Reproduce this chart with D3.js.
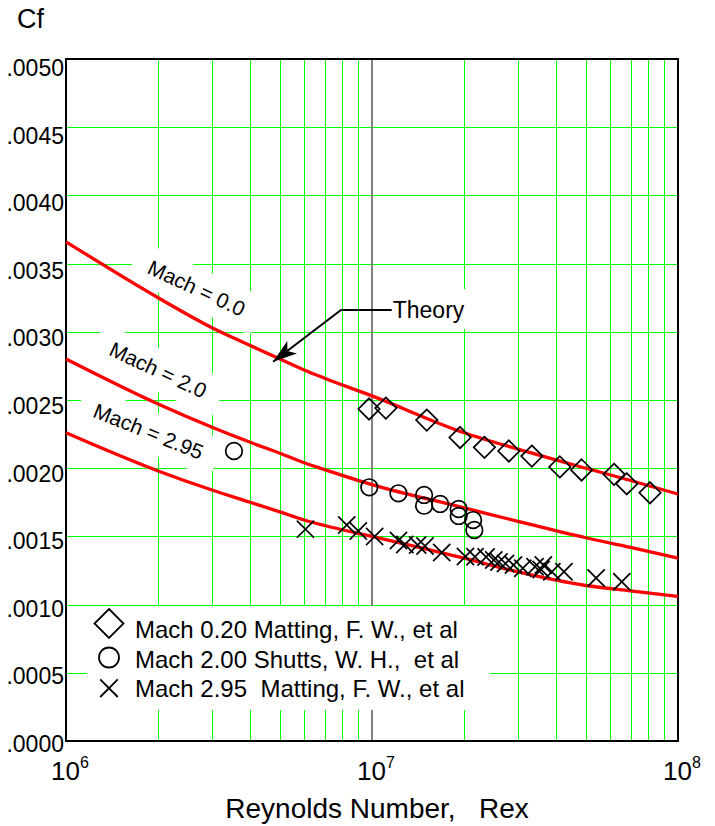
<!DOCTYPE html>
<html>
<head>
<meta charset="utf-8">
<script src="https://cdn.jsdelivr.net/npm/d3@7"></script>
<style>
  html, body { margin: 0; padding: 0; background: #fff; }
  svg { display: block; font-family: "Liberation Sans", Arial, sans-serif; }
</style>
</head>
<body>
<svg width="715" height="826"></svg>
<script>
// Theory curves at these Reynolds numbers
var theoryRe = [1e6, 2e6, 3e6, 4e6, 5e6, 6e6, 7e6, 1e7, 2e7, 3e7, 5e7, 7e7, 1e8];
var theoryM00 = [.00366, .00325, .00303, .00290, .00280, .00272, .00266, .00253, .00226, .00214, .00200, .00191, .00181];
var theoryM20 = [.00280, .00247, .00230, .00219, .00211, .00204, .00199, .00188, .00171, .00161, .00149, .00142, .00134];
var theoryM295 = [.00226, .00198, .00184, .00175, .00168, .00162, .00158, .00150, .00134, .00124, .00114, .00110, .00106];

// Mach 0.20 (Matting) - diamonds
var m020Re = [9.78e6, 1.11e7, 1.51e7, 1.94e7, 2.33e7, 2.80e7, 3.33e7, 4.11e7, 4.84e7, 6.18e7, 6.80e7, 8.10e7];
var m020Cf = [.002434, .002441, .002353, .002225, .002153, .002126, .002089, .002009, .001987, .001955, .001886, .00182];

// Mach 2.00 (Shutts) - circles
var m200Re = [3.54e6, 9.80e6, 1.22e7, 1.48e7, 1.48e7, 1.67e7, 1.92e7, 1.92e7, 2.14e7, 2.16e7];
var m200Cf = [.002126, .00186, .001816, .001804, .001725, .001738, .001701, .00165, .00162, .001547];

// Mach 2.95 (Matting) - crosses
var m295Re = [6.06e6, 8.27e6, 9.02e6, 1.02e7, 1.22e7, 1.28e7, 1.41e7, 1.49e7, 1.69e7, 2.02e7, 2.17e7, 2.36e7,
              2.50e7, 2.60e7, 2.73e7, 2.90e7, 3.11e7, 3.41e7, 3.57e7, 3.63e7, 3.87e7, 4.24e7, 5.40e7, 6.55e7];
var m295Cf = [.001553, .001584, .00154, .001499, .00147, .001441, .001437, .00143, .001382, .001353, .001351, .001349,
              .001327, .001312, .001301, .00129, .001266, .001278, .001257, .00129, .001241, .001241, .001195, .001168];

var yTickValues = [0, .0005, .001, .0015, .002, .0025, .003, .0035, .004, .0045, .005];
var xTickPowers = [6, 7, 8];
var legendLabels = ['Mach 0.20 Matting, F. W., et al', 'Mach 2.00 Shutts, W. H.,  et al', 'Mach 2.95  Matting, F. W., et al'];
var curveLabels = ['Mach = 0.0', 'Mach = 2.0', 'Mach = 2.95'];
// where the labels sit (data coords) and their tilt
var curveLabelRe = [2.67e6, 2.0e6, 1.86e6];
var curveLabelCf = [.00332, .00272, .00227];
var curveLabelAngle = [25, 25, 22];

var svg = d3.select('svg');
var W = 715, H = 826;
var margin = {top: 59, right: 37, bottom: 85, left: 66};

var x = d3.scaleLog().domain([1e6, 1e8]).range([margin.left, W - margin.right]);
var y = d3.scaleLinear().domain([0, 0.005]).range([H - margin.bottom, margin.top]);
// printed tick labels drift a little against the grid
var yLabel = d3.scaleLinear().domain([0, 0.005]).range([H - margin.bottom + 3, margin.top + 9]);

var x0 = x.range()[0], x1 = x.range()[1];
var y0 = y.range()[0], y1 = y.range()[1];

function isDecade(d) {
  var l = Math.log10(d);
  return Math.abs(l - Math.round(l)) < 1e-9;
}

// grid
var grid = svg.append('g').attr('shape-rendering', 'crispEdges');
grid.selectAll('line.v')
  .data(x.ticks().filter(function(d) { return !isDecade(d); }))
  .enter().append('line')
  .attr('x1', function(d) { return Math.round(x(d)) + 0.5; })
  .attr('x2', function(d) { return Math.round(x(d)) + 0.5; })
  .attr('y1', y1).attr('y2', y0)
  .style('stroke', '#00ff00').style('stroke-width', 1);

grid.selectAll('line.h')
  .data(yTickValues.filter(function(d) { return d > 0 && d < 0.005; }))
  .enter().append('line')
  .attr('x1', x0).attr('x2', x1)
  .attr('y1', function(d) { return Math.round(y(d)) + 0.5; })
  .attr('y2', function(d) { return Math.round(y(d)) + 0.5; })
  .style('stroke', '#00ff00').style('stroke-width', 1);

// 10^7 line in gray
svg.append('line')
  .attr('x1', x(1e7)).attr('x2', x(1e7))
  .attr('y1', y1).attr('y2', y0)
  .style('stroke', '#808080').style('stroke-width', 2);

// white patches behind the annotations
var masks = svg.append('g');
var labels = svg.append('g');

curveLabels.forEach(function(t, i) {
  var g = labels.append('g')
    .attr('transform', 'translate(' + x(curveLabelRe[i]) + ',' + y(curveLabelCf[i]) + ') rotate(' + curveLabelAngle[i] + ')');
  var txt = g.append('text')
    .attr('text-anchor', 'middle')
    .attr('dy', '0.35em')
    .style('font-size', '21px')
    .text(t);
  var len = txt.node().getComputedTextLength();
  masks.append('rect')
    .attr('transform', g.attr('transform'))
    .attr('x', -(len + 32) / 2).attr('y', -20)
    .attr('width', len + 32).attr('height', 40)
    .style('fill', '#fff');
});

// Theory callout
var theoryTip = [4.75e6, .00278];
var theoryElbow = [7.92e6, .00316];
var theoryText = [1.16e7, .00316];
var tx = x(theoryText[0]), ty = y(theoryText[1]);
var theoryLabel = labels.append('text')
  .attr('x', tx + 1).attr('y', ty + 8)
  .style('font-size', '23px')
  .text('Theory');
var tb = theoryLabel.node().getBBox();
masks.append('rect')
  .attr('x', tb.x - 15).attr('y', tb.y - 8)
  .attr('width', tb.width + 25).attr('height', tb.height + 14)
  .style('fill', '#fff');

// legend box
var legX = 87, legY = 606;
masks.append('rect')
  .attr('x', legX).attr('y', legY)
  .attr('width', 403).attr('height', 104)
  .style('fill', '#fff');

// frame
svg.append('rect')
  .attr('x', x0).attr('y', y1)
  .attr('width', x1 - x0).attr('height', y0 - y1)
  .style('fill', 'none').style('stroke', '#000').style('stroke-width', 2);

// theory curves
var line = d3.line()
  .x(function(d) { return x(d[0]); })
  .y(function(d) { return y(d[1]); })
  .curve(d3.curveMonotoneX);

[theoryM00, theoryM20, theoryM295].forEach(function(cf) {
  svg.append('path')
    .datum(d3.zip(theoryRe, cf))
    .attr('d', line)
    .style('fill', 'none').style('stroke', '#ff0000').style('stroke-width', 3.3);
});

// symbols
function diamondPath(r) { return 'M0,' + (-r) + 'L' + r + ',0L0,' + r + 'L' + (-r) + ',0Z'; }
function crossPath(r) { return 'M' + (-r) + ',' + (-r) + 'L' + r + ',' + r + 'M' + (-r) + ',' + r + 'L' + r + ',' + (-r); }
function circlePath(r) { return 'M' + (-r) + ',0A' + r + ',' + r + ' 0 1,0 ' + r + ',0A' + r + ',' + r + ' 0 1,0 ' + (-r) + ',0Z'; }

function drawPoints(re, cf, path) {
  svg.append('g').selectAll('path')
    .data(d3.zip(re, cf))
    .enter().append('path')
    .attr('transform', function(d) { return 'translate(' + x(d[0]) + ',' + y(d[1]) + ')'; })
    .attr('d', path)
    .style('fill', 'none').style('stroke', '#000').style('stroke-width', 1.7);
}
drawPoints(m020Re, m020Cf, diamondPath(10.7));
drawPoints(m200Re, m200Cf, circlePath(8.3));
drawPoints(m295Re, m295Cf, crossPath(8.6));

// arrow
var ex = x(theoryElbow[0]), ey = y(theoryElbow[1]);
var px = x(theoryTip[0]), py = y(theoryTip[1]);
svg.append('path')
  .attr('d', 'M' + tx + ',' + ty + 'L' + ex + ',' + ey + 'L' + px + ',' + py)
  .style('fill', 'none').style('stroke', '#000').style('stroke-width', 2);
var ang = Math.atan2(py - ey, px - ex);
svg.append('path')
  .attr('transform', 'translate(' + px + ',' + py + ') rotate(' + (ang * 180 / Math.PI) + ')')
  .attr('d', 'M0,0L-24,-8L-18,0L-24,8Z')
  .style('fill', '#000');

labels.raise();

// y axis labels
svg.append('g').selectAll('text')
  .data(yTickValues)
  .enter().append('text')
  .attr('x', x0 - 2)
  .attr('y', function(d) { return yLabel(d); })
  .attr('dy', '0.35em')
  .attr('text-anchor', 'end')
  .style('font-size', '23px')
  .text(function(d) { return d3.format('.4f')(d).replace(/^0/, ''); });

svg.append('text')
  .attr('x', 17).attr('y', 28)
  .style('font-size', '27px')
  .text('Cf');

// x axis labels
var xl = svg.append('g').selectAll('text')
  .data(xTickPowers)
  .enter().append('text')
  .attr('x', function(d) { return x(Math.pow(10, d)) + 4; })
  .attr('y', y0 + 39)
  .attr('text-anchor', 'middle')
  .style('font-size', '26px');
xl.append('tspan').text('10');
xl.append('tspan')
  .attr('dy', -12)
  .style('font-size', '16px')
  .text(function(d) { return d; });

svg.append('text')
  .attr('x', (x0 + x1) / 2 + 5).attr('y', y0 + 77)
  .attr('text-anchor', 'middle')
  .style('font-size', '28px')
  .style('white-space', 'pre')
  .text('Reynolds Number,   Rex');

// legend
var legSym = [diamondPath(14.5), circlePath(10), crossPath(8.8)];
var legLift = [14.5, 10, 8.8];
legendLabels.forEach(function(t, i) {
  var base = legY + 32 + i * 29.5;
  svg.append('path')
    .attr('transform', 'translate(' + (legX + 22) + ',' + (base - legLift[i]) + ')')
    .attr('d', legSym[i])
    .style('fill', 'none').style('stroke', '#000').style('stroke-width', 1.8);
  svg.append('text')
    .attr('x', legX + 48).attr('y', base)
    .style('font-size', '24px')
    .style('white-space', 'pre')
    .text(t);
});
</script>
</body>
</html>
